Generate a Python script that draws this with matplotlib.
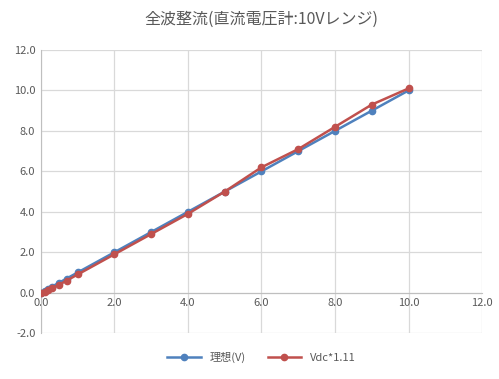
import matplotlib
matplotlib.use("Agg")
import matplotlib.pyplot as plt
from matplotlib.ticker import MultipleLocator, FormatStrFormatter

plt.rcParams['font.family'] = ['Noto Sans CJK JP', 'DejaVu Sans']

# data
x_vals = [0, 0.1, 0.2, 0.3, 0.5, 0.7, 1, 2, 3, 4, 5, 6, 7, 8, 9, 10]
ideal = [0, 0.1, 0.2, 0.3, 0.5, 0.7, 1, 2, 3, 4, 5, 6, 7, 8, 9, 10]
vdc = [-0.02, 0.05, 0.12, 0.22, 0.4, 0.6, 0.9, 1.9, 2.9, 3.9, 5.0, 6.2, 7.1, 8.2, 9.3, 10.1]

blue = '#4F81BD'
red = '#C0504D'
txt = '#595959'

fig = plt.figure(figsize=(4.99, 3.79), dpi=100)
ax = fig.add_axes([0.082, 0.121, 0.884, 0.747])

ax.plot(x_vals, ideal, color=blue, lw=1.8, marker='o', ms=4.5, label='理想(V)', zorder=3)
ax.plot(x_vals, vdc, color=red, lw=1.8, marker='o', ms=4.5, label='Vdc*1.11', zorder=4)

ax.set_xlim(0, 12)
ax.set_ylim(-2, 12)
ax.xaxis.set_major_locator(MultipleLocator(2))
ax.yaxis.set_major_locator(MultipleLocator(2))
ax.xaxis.set_major_formatter(FormatStrFormatter('%.1f'))
ax.yaxis.set_major_formatter(FormatStrFormatter('%.1f'))
ax.grid(True, color='#d9d9d9', lw=0.9)
ax.set_axisbelow(True)

for s in ['top', 'right']:
    ax.spines[s].set_visible(False)
ax.spines['bottom'].set_position(('data', 0))
ax.spines['bottom'].set_color('#bfbfbf')
ax.spines['left'].set_color('#bfbfbf')
ax.tick_params(length=0, labelsize=8, colors=txt, pad=4)

ax.set_title('全波整流(直流電圧計:10Vレンジ)', fontsize=11.5, color=txt, pad=19)

ax.legend(loc='upper center', bbox_to_anchor=(0.5, -0.03), ncol=2, frameon=False,
          fontsize=8, labelcolor=txt, handlelength=3)

fig.savefig('out.png', dpi=100)
